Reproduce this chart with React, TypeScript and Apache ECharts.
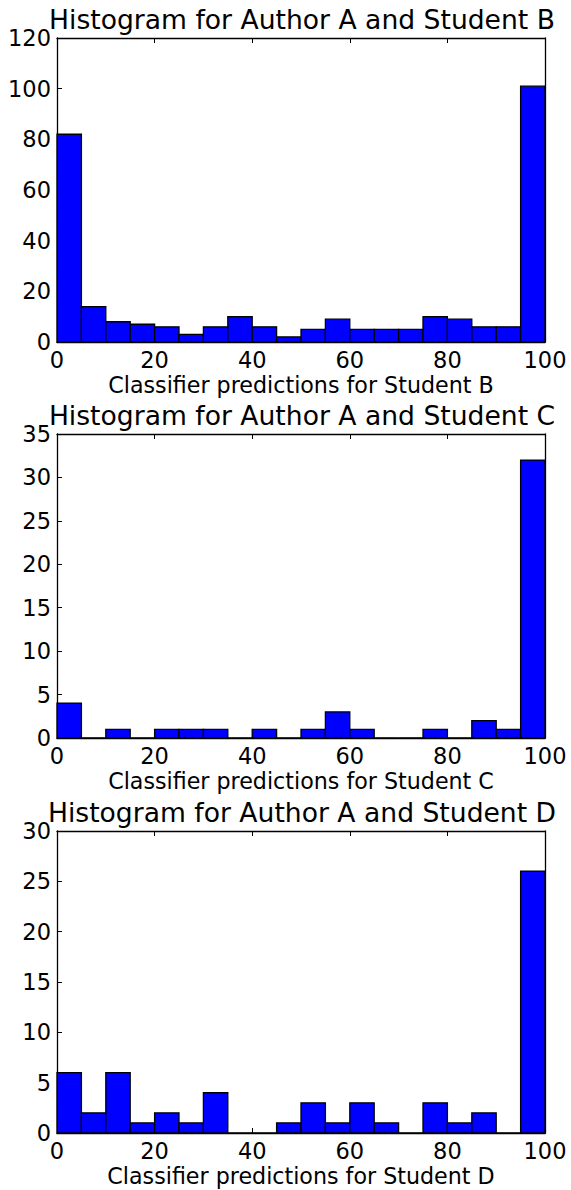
import React, { useEffect, useRef } from "react";
import * as echarts from "echarts";

const binStarts = [0, 5, 10, 15, 20, 25, 30, 35, 40, 45, 50, 55, 60, 65, 70, 75, 80, 85, 90, 95];
const binEnds = [5, 10, 15, 20, 25, 30, 35, 40, 45, 50, 55, 60, 65, 70, 75, 80, 85, 90, 95, 100];

const countsB = [82, 14, 8, 7, 6, 3, 6, 10, 6, 2, 5, 9, 5, 5, 5, 10, 9, 6, 6, 101];
const countsC = [4, 0, 1, 0, 1, 1, 1, 0, 1, 0, 1, 3, 1, 0, 0, 1, 0, 2, 1, 32];
const countsD = [6, 2, 6, 1, 2, 1, 4, 0, 0, 1, 3, 1, 3, 1, 0, 3, 1, 2, 0, 26];

const titles = [
  "Histogram for Author A and Student B",
  "Histogram for Author A and Student C",
  "Histogram for Author A and Student D",
];
const xLabels = [
  "Classifier predictions for Student B",
  "Classifier predictions for Student C",
  "Classifier predictions for Student D",
];
const yMax = [120, 35, 30];
const yStep = [20, 5, 5];
const xMin = 0;
const xMax = 100;
const xStep = 20;

const FONT = "DejaVu Sans";

export default function App() {
  const ref = useRef<HTMLDivElement>(null);
  useEffect(() => {
    if (!ref.current) return;
    const chart = echarts.init(ref.current, undefined, { renderer: "svg" });
    const allCounts = [countsB, countsC, countsD];
    const gridTops = [38, 434, 831];
    const gridHeights = [304, 304, 302];
    const left = 57;
    const width = 488;

    const grids: any[] = [];
    const xAxes: any[] = [];
    const yAxes: any[] = [];
    const series: any[] = [];
    const graphics: any[] = [];

    const lineStyle = { color: "#000", width: 1.3 };
    const tickStyle = { color: "#000", width: 1 };
    for (let i = 0; i < 3; i++) {
      grids.push({ left, top: gridTops[i], width, height: gridHeights[i], containLabel: false });
      const xBase = {
        type: "value",
        gridIndex: i,
        min: xMin,
        max: xMax,
        interval: xStep,
        splitLine: { show: false },
        axisLine: { show: true, lineStyle, onZero: false },
        axisTick: { show: true, inside: true, length: 5, lineStyle: tickStyle },
      };
      xAxes.push({
        ...xBase,
        position: "bottom",
        axisLabel: { show: true, margin: 6, color: "#000", fontFamily: FONT, fontSize: 22.5, showMinLabel: true, showMaxLabel: true },
        name: xLabels[i],
        nameLocation: "middle",
        nameGap: 32,
        nameTextStyle: { color: "#000", fontFamily: FONT, fontSize: 22.2 },
      });
      xAxes.push({ ...xBase, position: "top", axisLabel: { show: false } });
      const yBase = {
        type: "value",
        gridIndex: i,
        min: 0,
        max: yMax[i],
        interval: yStep[i],
        splitLine: { show: false },
        axisLine: { show: true, lineStyle, onZero: false },
        axisTick: { show: true, inside: true, length: 5, lineStyle: tickStyle },
      };
      yAxes.push({
        ...yBase,
        position: "left",
        axisLabel: { show: true, margin: 6, color: "#000", fontFamily: FONT, fontSize: 22.5, showMinLabel: true, showMaxLabel: true },
      });
      yAxes.push({ ...yBase, position: "right", axisLabel: { show: false } });

      const data = binStarts.map((s, k) => [s, binEnds[k], allCounts[i][k]]);
      series.push({
        type: "custom",
        xAxisIndex: 2 * i,
        yAxisIndex: 2 * i,
        encode: { x: [0, 1], y: 2 },
        data,
        renderItem: (params: any, api: any) => {
          const p0 = api.coord([api.value(0), api.value(2)]);
          const p1 = api.coord([api.value(1), 0]);
          return {
            type: "rect",
            shape: { x: p0[0], y: p0[1], width: p1[0] - p0[0], height: p1[1] - p0[1] },
            style: { fill: "#0000ff", stroke: "#000", lineWidth: 1.3 },
          };
        },
      });

      graphics.push({
        type: "text",
        x: left + width / 2 + 1,
        y: gridTops[i] - 19,
        style: {
          text: titles[i],
          font: `26.6px "${FONT}"`,
          fill: "#000",
          align: "center",
          verticalAlign: "middle",
        },
      });
    }

    chart.setOption({
      animation: false,
      backgroundColor: "#fff",
      grid: grids,
      xAxis: xAxes,
      yAxis: yAxes,
      series,
      graphic: graphics,
    });
    return () => chart.dispose();
  }, []);
  return (
    <div
      ref={ref}
      style={{ position: "absolute", left: 0, top: 0, width: 571, height: 1190 }}
    />
  );
}
